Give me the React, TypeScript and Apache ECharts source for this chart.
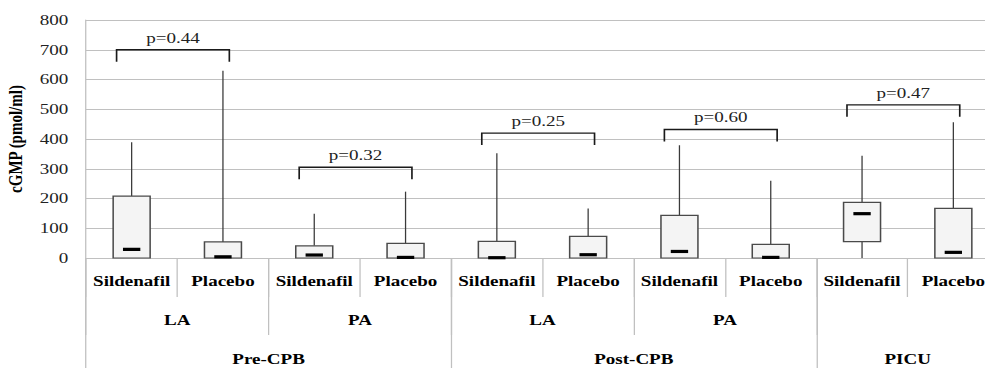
import React, { useEffect, useRef } from "react";
import * as echarts from "echarts";

// Treatment arm for each box, left to right
const categories = [
  "Sildenafil", "Placebo",
  "Sildenafil", "Placebo",
  "Sildenafil", "Placebo",
  "Sildenafil", "Placebo",
  "Sildenafil", "Placebo",
];
// Sampling site, one per pair of boxes
const subgroups = ["LA", "PA", "LA", "PA", ""];
// Time point and how many boxes each one spans
const groups = ["Pre-CPB", "Post-CPB", "PICU"];
const groupSpans = [4, 4, 2];

// cGMP (pmol/ml) box-plot statistics per box
const whiskerLow = [0, 0, 0, 0, 0, 0, 0, 0, 0, 0];
const q1 = [0, 0, 0, 0, 0, 0, 0, 0, 55, 0];
const median = [29, 4, 10, 2, 1, 11, 22, 2, 149, 19];
const q3 = [208, 54, 41, 49, 56, 73, 143, 46, 187, 167];
const whiskerHigh = [389, 629, 149, 223, 352, 166, 379, 260, 344, 456];

// Pairwise comparisons drawn as brackets
const pLeft = [0, 2, 4, 6, 8];
const pRight = [1, 3, 5, 7, 9];
const pHeight = [700, 305, 420, 432, 515];
const pLabels = ["p=0.44", "p=0.32", "p=0.25", "p=0.60", "p=0.47"];

const yMin = 0;
const yMax = 800;
const yStep = 100;

const FONT = "'Liberation Serif', 'Times New Roman', serif";
// The figure is set in a horizontally widened serif face
const STRETCH = 1.27;
const W = 786;
const H = 368;

export default function App() {
  const ref = useRef<HTMLDivElement>(null);

  useEffect(() => {
    if (!ref.current) return;
    const chart = echarts.init(ref.current, null, { renderer: "svg" });

    const edges: number[] = [0];
    groupSpans.forEach((s) => edges.push(edges[edges.length - 1] + s));
    const centers = groupSpans.map((s, i) => edges[i] + s / 2);

    const boxData = categories.map((_, i) => [
      i, whiskerLow[i], q1[i], median[i], q3[i], whiskerHigh[i],
    ]);
    const bracketData = pLeft.map((l, i) => [l, pRight[i], pHeight[i]]);

    const gridColor = "#c0c0c0";

    chart.setOption({
      animation: false,
      grid: {
        left: 86 / STRETCH,
        right: W - 999 / STRETCH,
        top: 20,
        bottom: 110,
        containLabel: false,
        outerBoundsMode: "none",
      },
      xAxis: [
        {
          type: "category",
          data: categories,
          position: "bottom",
          boundaryGap: true,
          axisLine: { show: true, lineStyle: { color: gridColor, width: 1 } },
          axisTick: { show: true, length: 39, interval: 0, lineStyle: { color: gridColor } },
          axisLabel: {
            interval: 0,
            margin: 16,
            fontFamily: FONT,
            fontSize: 15,
            fontWeight: "bold",
            color: "#000",
          },
          splitLine: { show: false },
        },
        {
          type: "category",
          data: subgroups,
          position: "bottom",
          boundaryGap: true,
          axisLine: { show: false },
          axisTick: { show: true, length: 77, interval: 0, lineStyle: { color: gridColor } },
          axisLabel: {
            interval: 0,
            margin: 55,
            fontFamily: FONT,
            fontSize: 15,
            fontWeight: "bold",
            color: "#000",
          },
          splitLine: { show: false },
        },
        {
          type: "value",
          min: 0,
          max: categories.length,
          position: "bottom",
          axisLine: { show: false },
          axisTick: {
            show: true,
            length: 115,
            customValues: edges,
            lineStyle: { color: gridColor },
          },
          axisLabel: {
            show: true,
            customValues: centers,
            margin: 94,
            formatter: (v: number) => {
              const idx = centers.findIndex((c) => Math.abs(c - v) < 1e-6);
              return idx >= 0 ? groups[idx] : "";
            },
            fontFamily: FONT,
            fontSize: 15,
            fontWeight: "bold",
            color: "#000",
          },
          splitLine: { show: false },
        },
      ],
      yAxis: {
        type: "value",
        min: yMin,
        max: yMax,
        interval: yStep,
        name: "cGMP (pmol/ml)",
        nameLocation: "middle",
        nameGap: 47,
        nameTextStyle: {
          fontFamily: FONT,
          fontSize: 15,
          fontWeight: "bold",
          color: "#000",
        },
        axisLine: { show: true, lineStyle: { color: gridColor } },
        axisTick: { show: false },
        axisLabel: { fontFamily: FONT, fontSize: 15, color: "#222", margin: 14 },
        splitLine: { show: true, lineStyle: { color: gridColor, width: 1 } },
      },
      series: [
        {
          type: "custom",
          name: "cGMP",
          xAxisIndex: 0,
          yAxisIndex: 0,
          data: boxData,
          renderItem: (params: any, api: any) => {
            const x = api.value(0);
            const band = api.size([1, 0])[0];
            const pLow = api.coord([x, api.value(1)]);
            const pQ1 = api.coord([x, api.value(2)]);
            const pMed = api.coord([x, api.value(3)]);
            const pQ3 = api.coord([x, api.value(4)]);
            const pHigh = api.coord([x, api.value(5)]);
            const cx = pQ1[0];
            const boxW = band * 0.405;
            const medW = band * 0.19;
            const line = { stroke: "#3a3a3a", lineWidth: 1 };
            const children: any[] = [
              {
                type: "line",
                shape: { x1: cx, y1: pQ3[1], x2: cx, y2: pHigh[1] },
                style: line,
              },
            ];
            if (pLow[1] - pQ1[1] > 0.5) {
              children.push({
                type: "line",
                shape: { x1: cx, y1: pQ1[1], x2: cx, y2: pLow[1] },
                style: line,
              });
            }
            children.push({
              type: "rect",
              shape: { x: cx - boxW / 2, y: pQ3[1], width: boxW, height: pQ1[1] - pQ3[1] },
              style: { fill: "#f4f4f4", stroke: "#4a4a4a", lineWidth: 1.2 },
            });
            children.push({
              type: "rect",
              shape: { x: cx - medW / 2, y: pMed[1] - 1.6, width: medW, height: 3.2 },
              style: { fill: "#000" },
            });
            return { type: "group", children };
          },
          z: 3,
        },
        {
          type: "custom",
          name: "p-values",
          xAxisIndex: 0,
          yAxisIndex: 0,
          data: bracketData,
          renderItem: (params: any, api: any) => {
            const band = api.size([1, 0])[0];
            const a = api.coord([api.value(0), api.value(2)]);
            const b = api.coord([api.value(1), api.value(2)]);
            const xl = a[0] - band * 0.165;
            const xr = b[0] + band * 0.07;
            const y = a[1];
            return {
              type: "group",
              children: [
                {
                  type: "polyline",
                  shape: {
                    points: [
                      [xl, y + 12],
                      [xl, y],
                      [xr, y],
                      [xr, y + 12],
                    ],
                  },
                  style: { stroke: "#1a1a1a", lineWidth: 1.3, fill: "none" },
                },
                {
                  type: "text",
                  x: (xl + xr) / 2,
                  y: y - 12,
                  style: {
                    text: pLabels[params.dataIndex],
                    align: "center",
                    verticalAlign: "middle",
                    fontFamily: FONT,
                    fontSize: 15,
                    fill: "#222",
                  },
                },
              ],
            };
          },
          z: 4,
        },
      ],
    });

    return () => chart.dispose();
  }, []);

  return (
    <div
      style={{
        position: "fixed",
        left: 0,
        top: 0,
        width: 985,
        height: H,
        overflow: "hidden",
        background: "#fff",
      }}
    >
      <div
        ref={ref}
        style={{
          width: W,
          height: H,
          transform: `scaleX(${STRETCH})`,
          transformOrigin: "0 0",
        }}
      />
    </div>
  );
}
